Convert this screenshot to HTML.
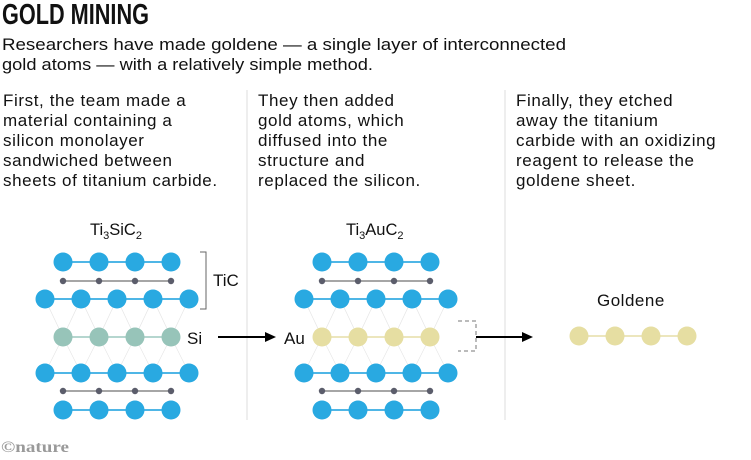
<!DOCTYPE html>
<html><head><meta charset="utf-8"><style>
html,body{margin:0;padding:0;background:#fff;width:751px;height:460px;overflow:hidden}
svg{display:block}
text{font-family:"Liberation Sans",sans-serif;fill:#111}
</style></head><body>
<svg width="751" height="460" viewBox="0 0 751 460" xmlns="http://www.w3.org/2000/svg">
<defs>
<g id="r4"><line x1="0" y1="0" x2="108" y2="0" stroke="#4fb6e6" stroke-width="2"/><circle cx="0" cy="0" r="9.5" fill="#29a9e1"/><circle cx="36" cy="0" r="9.5" fill="#29a9e1"/><circle cx="72" cy="0" r="9.5" fill="#29a9e1"/><circle cx="108" cy="0" r="9.5" fill="#29a9e1"/></g>
<g id="r5"><line x1="0" y1="0" x2="144" y2="0" stroke="#4fb6e6" stroke-width="2"/><circle cx="0" cy="0" r="9.5" fill="#29a9e1"/><circle cx="36" cy="0" r="9.5" fill="#29a9e1"/><circle cx="72" cy="0" r="9.5" fill="#29a9e1"/><circle cx="108" cy="0" r="9.5" fill="#29a9e1"/><circle cx="144" cy="0" r="9.5" fill="#29a9e1"/></g>
<g id="dots"><line x1="0" y1="0" x2="108" y2="0" stroke="#888" stroke-width="1.5"/><circle cx="0" cy="0" r="3.2" fill="#5b5d6b"/><circle cx="36" cy="0" r="3.2" fill="#5b5d6b"/><circle cx="72" cy="0" r="3.2" fill="#5b5d6b"/><circle cx="108" cy="0" r="3.2" fill="#5b5d6b"/></g>
<g id="zig" stroke="#e6e6e6" stroke-width="0.7" fill="none">
<polyline points="-18,-38 0,0 18,-38 36,0 54,-38 72,0 90,-38 108,0 126,-38"/>
<polyline points="-18,36 0,0 18,36 36,0 54,36 72,0 90,36 108,0 126,36"/>
</g>
<g id="lat">
<use href="#zig" x="63" y="337"/>
<use href="#r4" x="63" y="262"/>
<use href="#dots" x="63" y="281"/>
<use href="#r5" x="45" y="299"/>
<use href="#r5" x="45" y="373"/>
<use href="#dots" x="63" y="391"/>
<use href="#r4" x="63" y="410"/>
</g>
</defs>

<text x="2" y="24" font-size="29" font-weight="bold" textLength="147" lengthAdjust="spacingAndGlyphs">GOLD MINING</text>
<text x="2" y="50" font-size="17" textLength="564" lengthAdjust="spacingAndGlyphs">Researchers have made goldene — a single layer of interconnected</text>
<text x="2" y="70" font-size="17" textLength="371" lengthAdjust="spacingAndGlyphs">gold atoms — with a relatively simple method.</text>

<line x1="247" y1="90" x2="247" y2="420" stroke="#e8e8e8" stroke-width="1.5"/>
<line x1="505" y1="90" x2="505" y2="420" stroke="#e8e8e8" stroke-width="1.5"/>

<g font-size="17" letter-spacing="0.6">
<text x="3" y="106">First, the team made a</text>
<text x="3" y="126">material containing a</text>
<text x="3" y="146">silicon monolayer</text>
<text x="3" y="166">sandwiched between</text>
<text x="3" y="186">sheets of titanium carbide.</text>
<text x="258" y="106">They then added</text>
<text x="258" y="126">gold atoms, which</text>
<text x="258" y="146">diffused into the</text>
<text x="258" y="166">structure and</text>
<text x="258" y="186">replaced the silicon.</text>
<text x="516" y="106">Finally, they etched</text>
<text x="516" y="126">away the titanium</text>
<text x="516" y="146">carbide with an oxidizing</text>
<text x="516" y="166">reagent to release the</text>
<text x="516" y="186">goldene sheet.</text>
</g>

<text x="90" y="235" font-size="16.5">Ti<tspan font-size="11" dy="4">3</tspan><tspan dy="-4">SiC</tspan><tspan font-size="11" dy="4">2</tspan></text>
<text x="346" y="235" font-size="16.5">Ti<tspan font-size="11" dy="4">3</tspan><tspan dy="-4">AuC</tspan><tspan font-size="11" dy="4">2</tspan></text>

<use href="#lat"/>
<line x1="63" y1="337" x2="171" y2="337" stroke="#b5d6cf" stroke-width="2"/>
<g fill="#97c4b9"><circle cx="63" cy="337" r="9.5"/><circle cx="99" cy="337" r="9.5"/><circle cx="135" cy="337" r="9.5"/><circle cx="171" cy="337" r="9.5"/></g>
<polyline points="200,252 206,252 206,309 200,309" fill="none" stroke="#666" stroke-width="1"/>
<text x="213" y="286" font-size="17">TiC</text>
<text x="187" y="344" font-size="17">Si</text>
<line x1="218" y1="337" x2="268" y2="337" stroke="#000" stroke-width="2"/>
<polygon points="276,337 265,332 265,342" fill="#000"/>

<use href="#lat" x="259"/>
<line x1="322" y1="337" x2="430" y2="337" stroke="#ece6bd" stroke-width="2"/>
<g fill="#e6dea2"><circle cx="322" cy="337" r="9.5"/><circle cx="358" cy="337" r="9.5"/><circle cx="394" cy="337" r="9.5"/><circle cx="430" cy="337" r="9.5"/></g>
<text x="284" y="344" font-size="17">Au</text>
<polyline points="458,321 476,321 476,351 458,351" fill="none" stroke="#777" stroke-width="1" stroke-dasharray="4,3"/>
<line x1="476" y1="337" x2="525" y2="337" stroke="#000" stroke-width="2"/>
<polygon points="533,337 522,332 522,342" fill="#000"/>

<text x="597" y="306" font-size="17" letter-spacing="0.5">Goldene</text>
<line x1="579" y1="336" x2="687" y2="336" stroke="#ece6bd" stroke-width="2"/>
<g fill="#e6dea2"><circle cx="579" cy="336" r="9.5"/><circle cx="615" cy="336" r="9.5"/><circle cx="651" cy="336" r="9.5"/><circle cx="687" cy="336" r="9.5"/></g>

<text x="1" y="452" font-size="16" font-weight="bold" style="font-family:'Liberation Serif',serif;fill:#9a9a9a" textLength="68" lengthAdjust="spacingAndGlyphs">©nature</text>
</svg>
</body></html>
